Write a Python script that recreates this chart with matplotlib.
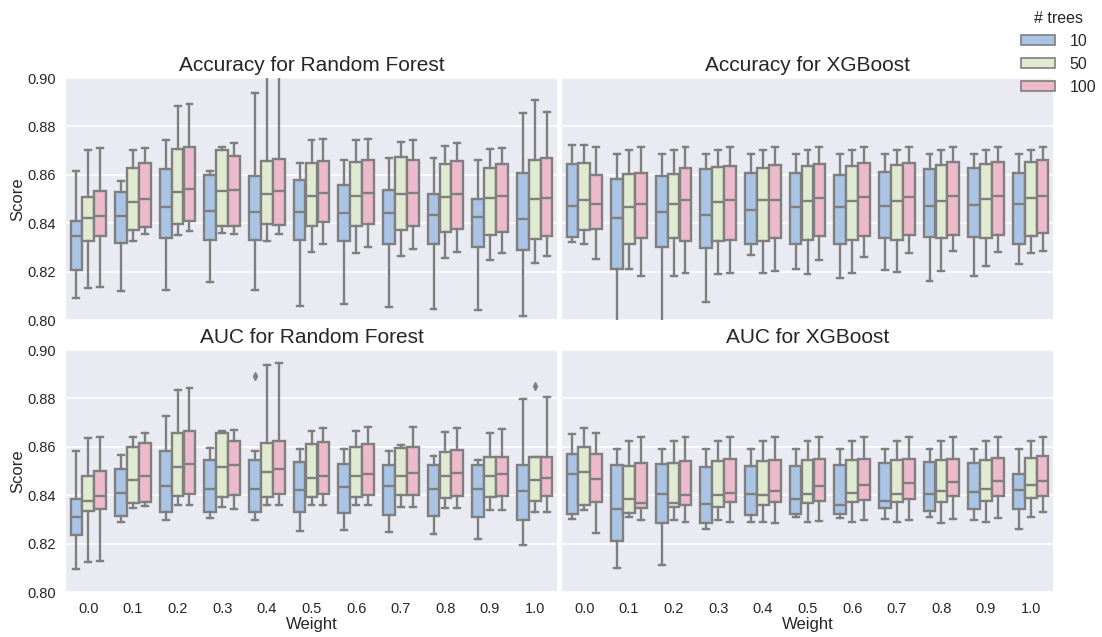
import numpy as np
import matplotlib
matplotlib.use('Agg')
from matplotlib import pyplot as plt
from matplotlib.patches import Patch

# box stats: (whisker low, q1, median, q3, whisker high)
weights = ['0.0', '0.1', '0.2', '0.3', '0.4', '0.5', '0.6', '0.7', '0.8', '0.9', '1.0']
trees = ['10', '50', '100']
colors = ['#aac4e6', '#e0ead0', '#edbacc']

acc_rf_10 = [(0.8092, 0.8206, 0.8346, 0.8410, 0.8617), (0.8120, 0.8320, 0.8429, 0.8527, 0.8574),
             (0.8124, 0.8337, 0.8465, 0.8623, 0.8742), (0.8159, 0.8332, 0.8450, 0.8601, 0.8617),
             (0.8124, 0.8332, 0.8446, 0.8593, 0.8938), (0.8058, 0.8332, 0.8446, 0.8577, 0.8650),
             (0.8068, 0.8328, 0.8441, 0.8559, 0.8663), (0.8054, 0.8316, 0.8441, 0.8538, 0.8668),
             (0.8046, 0.8312, 0.8433, 0.8520, 0.8668), (0.8041, 0.8302, 0.8425, 0.8498, 0.8662),
             (0.8018, 0.8288, 0.8417, 0.8606, 0.8855)]
acc_rf_50 = [(0.8132, 0.8328, 0.8422, 0.8510, 0.8702), (0.8328, 0.8371, 0.8486, 0.8629, 0.8702),
             (0.8352, 0.8397, 0.8527, 0.8706, 0.8883), (0.8359, 0.8388, 0.8532, 0.8702, 0.8716),
             (0.8328, 0.8396, 0.8519, 0.8658, 0.9100), (0.8280, 0.8390, 0.8514, 0.8648, 0.8742),
             (0.8276, 0.8388, 0.8514, 0.8654, 0.8742), (0.8263, 0.8372, 0.8520, 0.8672, 0.8734),
             (0.8258, 0.8363, 0.8510, 0.8644, 0.8720), (0.8246, 0.8352, 0.8506, 0.8628, 0.8706),
             (0.8236, 0.8335, 0.8498, 0.8662, 0.8908)]
acc_rf_100 = [(0.8137, 0.8346, 0.8429, 0.8532, 0.8712), (0.8356, 0.8386, 0.8501, 0.8650, 0.8712),
              (0.8367, 0.8408, 0.8542, 0.8714, 0.8894), (0.8356, 0.8390, 0.8538, 0.8676, 0.8731),
              (0.8356, 0.8394, 0.8532, 0.8666, 0.9100), (0.8312, 0.8404, 0.8524, 0.8659, 0.8750),
              (0.8303, 0.8397, 0.8524, 0.8662, 0.8746), (0.8294, 0.8390, 0.8524, 0.8663, 0.8742),
              (0.8280, 0.8377, 0.8519, 0.8659, 0.8730), (0.8276, 0.8364, 0.8514, 0.8644, 0.8712),
              (0.8263, 0.8348, 0.8506, 0.8668, 0.8859)]

acc_xgb_10 = [(0.8324, 0.8343, 0.8473, 0.8646, 0.8724), (0.7950, 0.8211, 0.8421, 0.8583, 0.8684),
              (0.7950, 0.8302, 0.8446, 0.8596, 0.8684), (0.8076, 0.8298, 0.8433, 0.8623, 0.8684),
              (0.8270, 0.8316, 0.8454, 0.8606, 0.8684), (0.8210, 0.8316, 0.8469, 0.8606, 0.8684),
              (0.8172, 0.8316, 0.8465, 0.8600, 0.8684), (0.8207, 0.8338, 0.8472, 0.8610, 0.8684),
              (0.8163, 0.8342, 0.8473, 0.8623, 0.8684), (0.8181, 0.8342, 0.8477, 0.8628, 0.8684),
              (0.8233, 0.8316, 0.8481, 0.8606, 0.8684)]
acc_xgb_50 = [(0.8316, 0.8371, 0.8494, 0.8650, 0.8724), (0.8210, 0.8316, 0.8469, 0.8604, 0.8702),
              (0.8181, 0.8337, 0.8480, 0.8604, 0.8702), (0.8190, 0.8328, 0.8486, 0.8632, 0.8702),
              (0.8193, 0.8328, 0.8494, 0.8628, 0.8702), (0.8190, 0.8332, 0.8492, 0.8636, 0.8702),
              (0.8194, 0.8332, 0.8492, 0.8636, 0.8702), (0.8199, 0.8332, 0.8492, 0.8640, 0.8702),
              (0.8203, 0.8337, 0.8492, 0.8640, 0.8702), (0.8225, 0.8337, 0.8498, 0.8644, 0.8702),
              (0.8276, 0.8348, 0.8505, 0.8654, 0.8702)]
acc_xgb_100 = [(0.8254, 0.8377, 0.8481, 0.8601, 0.8714), (0.8181, 0.8337, 0.8480, 0.8607, 0.8716),
               (0.8193, 0.8328, 0.8494, 0.8628, 0.8716), (0.8193, 0.8332, 0.8495, 0.8636, 0.8716),
               (0.8201, 0.8337, 0.8494, 0.8640, 0.8716), (0.8246, 0.8348, 0.8503, 0.8644, 0.8716),
               (0.8259, 0.8348, 0.8508, 0.8648, 0.8716), (0.8277, 0.8352, 0.8508, 0.8650, 0.8716),
               (0.8286, 0.8350, 0.8512, 0.8654, 0.8716), (0.8280, 0.8352, 0.8512, 0.8654, 0.8716),
               (0.8286, 0.8360, 0.8512, 0.8662, 0.8716)]

auc_rf_10 = [(0.8097, 0.8236, 0.8308, 0.8386, 0.8581), (0.8288, 0.8314, 0.8408, 0.8507, 0.8568),
             (0.8296, 0.8330, 0.8438, 0.8581, 0.8727), (0.8305, 0.8330, 0.8426, 0.8547, 0.8595),
             (0.8296, 0.8330, 0.8426, 0.8544, 0.8582), (0.8252, 0.8330, 0.8421, 0.8538, 0.8590),
             (0.8258, 0.8326, 0.8433, 0.8529, 0.8590), (0.8248, 0.8319, 0.8436, 0.8525, 0.8582),
             (0.8241, 0.8314, 0.8425, 0.8525, 0.8564), (0.8218, 0.8310, 0.8427, 0.8525, 0.8545),
             (0.8193, 0.8296, 0.8416, 0.8525, 0.8797)]
auc_rf_50 = [(0.8125, 0.8336, 0.8377, 0.8481, 0.8637), (0.8348, 0.8366, 0.8463, 0.8600, 0.8641),
             (0.8359, 0.8397, 0.8516, 0.8659, 0.8833), (0.8353, 0.8393, 0.8516, 0.8659, 0.8664),
             (0.8359, 0.8393, 0.8495, 0.8614, 0.8940), (0.8358, 0.8393, 0.8471, 0.8610, 0.8664),
             (0.8358, 0.8393, 0.8478, 0.8601, 0.8664), (0.8353, 0.8401, 0.8478, 0.8595, 0.8608),
             (0.8348, 0.8388, 0.8478, 0.8577, 0.8660), (0.8338, 0.8393, 0.8478, 0.8559, 0.8655),
             (0.8330, 0.8378, 0.8463, 0.8556, 0.8556)]
auc_rf_100 = [(0.8129, 0.8344, 0.8396, 0.8499, 0.8641), (0.8356, 0.8373, 0.8481, 0.8614, 0.8655),
              (0.8359, 0.8407, 0.8529, 0.8667, 0.8841), (0.8344, 0.8401, 0.8525, 0.8625, 0.8668),
              (0.8359, 0.8404, 0.8508, 0.8625, 0.8945), (0.8358, 0.8404, 0.8481, 0.8621, 0.8677),
              (0.8358, 0.8401, 0.8486, 0.8611, 0.8681), (0.8353, 0.8401, 0.8490, 0.8601, 0.8681),
              (0.8348, 0.8396, 0.8490, 0.8588, 0.8677), (0.8338, 0.8396, 0.8486, 0.8559, 0.8673),
              (0.8330, 0.8397, 0.8471, 0.8559, 0.8805)]

auc_xgb_10 = [(0.8301, 0.8322, 0.8486, 0.8571, 0.8651), (0.8101, 0.8210, 0.8344, 0.8525, 0.8590),
              (0.8110, 0.8285, 0.8407, 0.8529, 0.8590), (0.8262, 0.8285, 0.8364, 0.8515, 0.8590),
              (0.8288, 0.8319, 0.8404, 0.8519, 0.8590), (0.8310, 0.8322, 0.8386, 0.8519, 0.8590),
              (0.8305, 0.8322, 0.8358, 0.8525, 0.8590), (0.8301, 0.8348, 0.8374, 0.8533, 0.8590),
              (0.8310, 0.8334, 0.8403, 0.8536, 0.8590), (0.8296, 0.8342, 0.8412, 0.8532, 0.8590),
              (0.8262, 0.8342, 0.8421, 0.8486, 0.8590)]
auc_xgb_50 = [(0.8340, 0.8359, 0.8495, 0.8601, 0.8677), (0.8310, 0.8325, 0.8385, 0.8519, 0.8626),
              (0.8296, 0.8351, 0.8368, 0.8532, 0.8626), (0.8296, 0.8353, 0.8400, 0.8541, 0.8626),
              (0.8290, 0.8359, 0.8400, 0.8541, 0.8626), (0.8288, 0.8366, 0.8404, 0.8547, 0.8626),
              (0.8288, 0.8370, 0.8408, 0.8547, 0.8626), (0.8288, 0.8370, 0.8407, 0.8547, 0.8626),
              (0.8284, 0.8370, 0.8416, 0.8545, 0.8626), (0.8288, 0.8374, 0.8425, 0.8545, 0.8626),
              (0.8310, 0.8388, 0.8444, 0.8555, 0.8626)]
auc_xgb_100 = [(0.8245, 0.8370, 0.8467, 0.8571, 0.8655), (0.8296, 0.8348, 0.8368, 0.8534, 0.8641),
               (0.8290, 0.8359, 0.8400, 0.8542, 0.8641), (0.8288, 0.8370, 0.8408, 0.8548, 0.8641),
               (0.8284, 0.8370, 0.8416, 0.8547, 0.8641), (0.8292, 0.8378, 0.8440, 0.8551, 0.8641),
               (0.8296, 0.8382, 0.8444, 0.8551, 0.8641), (0.8296, 0.8386, 0.8452, 0.8551, 0.8641),
               (0.8300, 0.8395, 0.8456, 0.8551, 0.8641), (0.8304, 0.8397, 0.8460, 0.8555, 0.8641),
               (0.8330, 0.8397, 0.8460, 0.8563, 0.8641)]

# the two outliers in the RF AUC panel: (weight index, hue index, value)
auc_rf_outliers = [(4, 0, 0.8893), (10, 1, 0.8853)]

panels = [
    ('Accuracy for Random Forest', [acc_rf_10, acc_rf_50, acc_rf_100], []),
    ('Accuracy for XGBoost', [acc_xgb_10, acc_xgb_50, acc_xgb_100], []),
    ('AUC for Random Forest', [auc_rf_10, auc_rf_50, auc_rf_100], auc_rf_outliers),
    ('AUC for XGBoost', [auc_xgb_10, auc_xgb_50, auc_xgb_100], []),
]

plt.rcParams['font.family'] = ['Liberation Sans', 'DejaVu Sans']
plt.rcParams['text.color'] = '#262626'
plt.rcParams['axes.labelcolor'] = '#262626'
plt.rcParams['xtick.color'] = '#262626'
plt.rcParams['ytick.color'] = '#262626'

fig = plt.figure(figsize=(11.02, 6.37), dpi=100)
W, H = 1102, 637
# axes boxes in pixels (left, top, right, bottom)
boxes = [(66, 78, 557, 320), (562, 78, 1053, 320), (66, 350, 557, 592), (562, 350, 1053, 592)]

gray = '#7f7f7f'
hue_w = 0.8 / 3

for i, (title, series, outs) in enumerate(panels):
    l, t, r, b = boxes[i]
    ax = fig.add_axes([l / W, 1 - b / H, (r - l) / W, (b - t) / H])
    ax.set_facecolor('#eaeaf2')
    for s in ax.spines.values():
        s.set_visible(False)
    ax.set_axisbelow(True)
    ax.yaxis.grid(True, color='white', linewidth=1.1)

    for h, data in enumerate(series):
        stats = []
        for k, (lo, q1, med, q3, hi) in enumerate(data):
            fl = [v for (kk, hh, v) in outs if kk == k and hh == h]
            stats.append(dict(whislo=lo, q1=q1, med=med, q3=q3, whishi=hi, fliers=fl))
        pos = np.arange(len(weights)) + (h - 1) * hue_w
        ax.bxp(stats, positions=pos, widths=hue_w * 0.98, patch_artist=True,
               boxprops=dict(facecolor=colors[h], edgecolor=gray, linewidth=1.7),
               medianprops=dict(color=gray, linewidth=1.7),
               whiskerprops=dict(color=gray, linewidth=1.7),
               capprops=dict(color=gray, linewidth=1.7),
               flierprops=dict(marker='d', markersize=4, markerfacecolor=gray,
                               markeredgecolor=gray))

    ax.set_xlim(-0.5, len(weights) - 0.5)
    ax.set_ylim(0.80, 0.90)
    ax.set_yticks([0.80, 0.82, 0.84, 0.86, 0.88, 0.90])
    ax.set_xticks(np.arange(len(weights)))
    ax.tick_params(length=0, labelsize=10.5, pad=7)
    ax.set_title(title, fontsize=15, pad=5)
    if i < 2:
        ax.set_xticklabels([])
    else:
        ax.set_xticklabels(weights)
        ax.set_xlabel('Weight', fontsize=12, labelpad=1)
    if i % 2 == 0:
        ax.set_yticklabels(['%.2f' % v for v in ax.get_yticks()])
        ax.set_ylabel('Score', fontsize=12, labelpad=2)
    else:
        ax.set_yticklabels([])

handles = [Patch(facecolor=c, edgecolor=gray, linewidth=1.2) for c in colors]
fig.legend(handles, trees, title='# trees', loc='upper left', bbox_to_anchor=(1007 / W, 1.006),
           frameon=False, fontsize=11.5, title_fontsize=11.5, handlelength=2.1, handleheight=0.55,
           labelspacing=0.5, handletextpad=0.9)

fig.savefig('out.png', dpi=100)
